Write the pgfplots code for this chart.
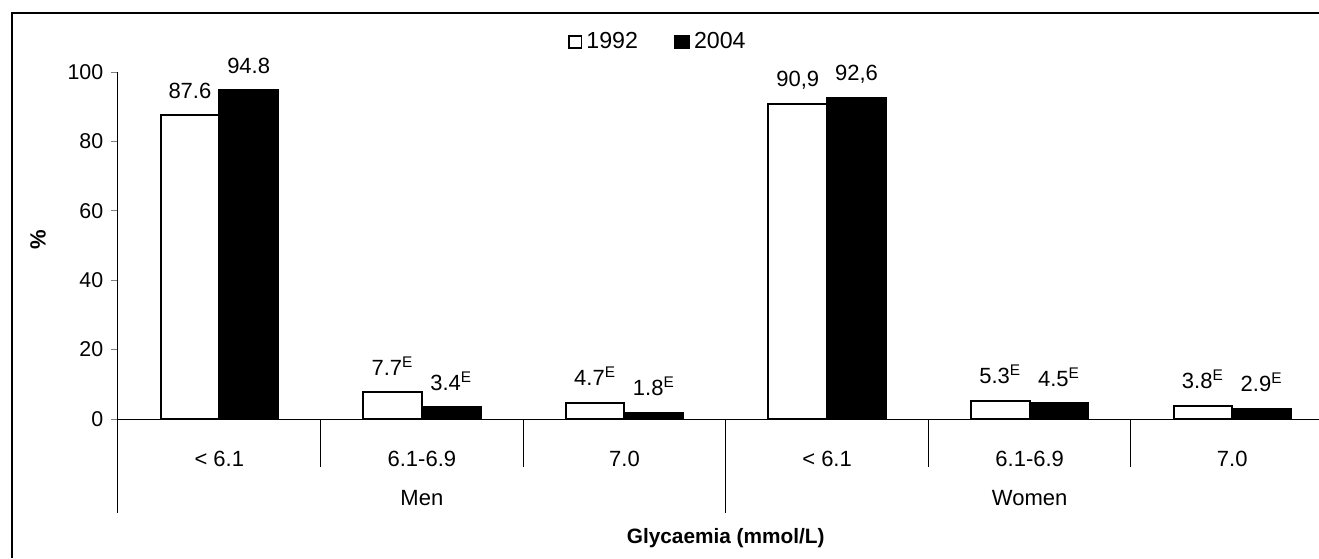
\documentclass[border=0pt]{standalone}
\usepackage{pgfplots}
\pgfplotsset{compat=1.18}
\usepackage{fontspec}
\setmainfont{Liberation Sans}
\begin{document}
\fontsize{11}{13}\selectfont
\begin{tikzpicture}[font=\fontsize{11}{13}\selectfont]
\path[use as bounding box] (0,0) rectangle (659.5pt,-279pt);
\draw[line width=0.6pt] (6pt,-279pt) -- (6pt,-6.5pt) -- (659.5pt,-6.5pt);
\begin{axis}[
  at={(59pt,-209.5pt)}, anchor=south west,
  scale only axis, width=600.5pt, height=173.5pt,
  xmin=-0.5, xmax=5.428, ymin=0, ymax=100,
  axis x line=bottom, axis y line=left,
  axis line style={-, line width=0.5pt},
  ytick={0,20,...,100}, tick align=outside, major tick length=3.5pt,
  ytick style={line width=0.5pt},
  xtick={0,...,5},
  xticklabels={< 6.1, 6.1-6.9, 7.0, < 6.1, 6.1-6.9, 7.0},
  x tick style={draw=none},
  xticklabel style={anchor=center, yshift=-16.5pt, font=\fontsize{11}{13}\selectfont},
  yticklabel style={font=\fontsize{10.7}{12.5}\selectfont},
  /pgf/number format/assume math mode=true,
  ybar=0pt, bar width=0.29,
  clip=false,
  nodes near coords,
  point meta=explicit symbolic,
  every node near coord/.append style={anchor=base, yshift=8.5pt, font=\fontsize{11}{13}\selectfont},
  ylabel={\textbf{\%}},
  every axis y label/.style={at={(axis description cs:-0.0666,0.516)}, rotate=90, anchor=center},
  xlabel={\fontsize{10.4}{12}\selectfont\textbf{Glycaemia (mmol/L)}},
  every axis x label/.style={at={(axis description cs:0.506,-0.343)}, anchor=center},
  legend style={draw=none, fill=none, at={(0.4505,1.0865)}, anchor=center,
    legend columns=2, /tikz/every even column/.append style={column sep=16pt},
    font=\fontsize{11.6}{13}\selectfont},
]
\addplot[fill=white, draw=black, line width=1pt,
  legend image code/.code={\draw[fill=white, draw=black, line width=0.8pt] (0pt,-3.1pt) rectangle (6.2pt,3.1pt);}]
  coordinates {(0,87.6) [87.6] (1,7.7) [7.7\textsuperscript{E}] (2,4.7) [4.7\textsuperscript{E}]
               (3,90.9) [{90,9}] (4,5.3) [5.3\textsuperscript{E}] (5,3.8) [3.8\textsuperscript{E}]};
\addplot[fill=black, draw=black, line width=1pt,
  legend image code/.code={\draw[fill=black, draw=black, line width=0.8pt] (0pt,-3.3pt) rectangle (7.2pt,3.3pt);}]
  coordinates {(0,94.8) [94.8] (1,3.4) [3.4\textsuperscript{E}] (2,1.8) [1.8\textsuperscript{E}]
               (3,92.6) [{92,6}] (4,4.5) [4.5\textsuperscript{E}] (5,2.9) [2.9\textsuperscript{E}]};
\legend{1992,2004}
\draw[line width=0.5pt] (axis cs:-0.5,0) -- ++(0pt,-47pt);
\draw[line width=0.5pt] (axis cs:0.5,0) -- ++(0pt,-24pt);
\draw[line width=0.5pt] (axis cs:1.5,0) -- ++(0pt,-24pt);
\draw[line width=0.5pt] (axis cs:2.5,0) -- ++(0pt,-47pt);
\draw[line width=0.5pt] (axis cs:3.5,0) -- ++(0pt,-24pt);
\draw[line width=0.5pt] (axis cs:4.5,0) -- ++(0pt,-24pt);
\node[anchor=center] at ([yshift=-39.5pt]axis cs:1,0) {Men};
\node[anchor=center] at ([yshift=-39.5pt]axis cs:4,0) {Women};
\end{axis}
\end{tikzpicture}
\end{document}
